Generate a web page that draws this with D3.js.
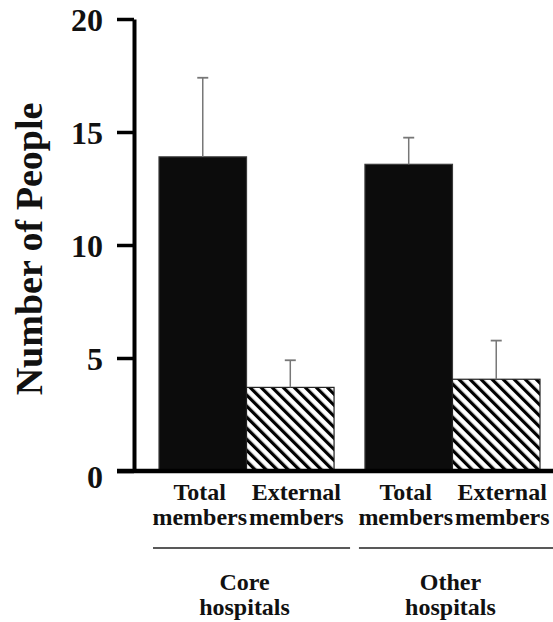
<!DOCTYPE html>
<html>
<head>
<meta charset="utf-8">
<script src="https://cdn.jsdelivr.net/npm/d3@7"></script>
<style>
  html, body { margin: 0; padding: 0; background: #fff; }
  svg { display: block; }
</style>
</head>
<body>
<svg id="chart" width="553" height="622"></svg>
<script>
// Groups of hospitals and the two member counts shown for each
const groups = ["Core hospitals", "Other hospitals"];
const groupLabelLines = [["Core", "hospitals"], ["Other", "hospitals"]];
const series = ["Total members", "External members"];
const seriesLabelLines = [["Total", "members"], ["External", "members"]];

// Mean number of people (per group, per series) and the upper error
const totalMembers = [13.9, 13.57];
const totalMembersErr = [3.5, 1.18];
const externalMembers = [3.7, 4.06];
const externalMembersErr = [1.2, 1.71];

const yTicks = [0, 5, 10, 15, 20];

const FONT = "'Liberation Serif', 'Times New Roman', Times, serif";

const rows = [];
groups.forEach((g, i) => {
  rows.push({ group: g, series: series[0], value: totalMembers[i], err: totalMembersErr[i] });
  rows.push({ group: g, series: series[1], value: externalMembers[i], err: externalMembersErr[i] });
});

const svg = d3.select("#chart");
const defs = svg.append("defs");

// Diagonal hatching for the external-member bars
const pat = defs.append("pattern")
  .attr("id", "hatch")
  .attr("patternUnits", "userSpaceOnUse")
  .attr("width", 7.8)
  .attr("height", 7.8)
  .attr("patternTransform", "rotate(-45)");
pat.append("rect").attr("width", 7.8).attr("height", 7.8).attr("fill", "#fff");
pat.append("rect").attr("x", 0).attr("y", 0).attr("width", 3.2).attr("height", 7.8).attr("fill", "#000");

const plotLeft = 134, plotBottom = 471, plotTop = 19;

const y = d3.scaleLinear().domain([0, 20]).range([plotBottom, plotTop]);

const x0 = d3.scaleBand().domain(groups).range([159, 540]).paddingInner(0.15).paddingOuter(0);
const x1 = d3.scaleBand().domain(series).range([0, x0.bandwidth()]).padding(0);

function label(sel) {
  return sel
    .style("font-family", FONT)
    .style("font-weight", "bold")
    .style("fill", "#111");
}

// Bars
const barG = svg.append("g").selectAll("g.bar").data(rows).join("g")
  .attr("transform", d => `translate(${x0(d.group) + x1(d.series)},0)`);

barG.append("rect")
  .attr("x", 0)
  .attr("y", d => y(d.value))
  .attr("width", x1.bandwidth())
  .attr("height", d => y(0) - y(d.value))
  .attr("fill", d => d.series === series[0] ? "#0c0c0c" : "url(#hatch)")
  .attr("stroke", d => d.series === series[0] ? "#3a3a3a" : "#222")
  .attr("stroke-width", 1.2);

// Error bars (upper only)
barG.append("line")
  .attr("x1", x1.bandwidth() / 2).attr("x2", x1.bandwidth() / 2)
  .attr("y1", d => y(d.value))
  .attr("y2", d => y(d.value + d.err))
  .attr("stroke", "#777").attr("stroke-width", 1.5);
barG.append("line")
  .attr("x1", x1.bandwidth() / 2 - 5.5).attr("x2", x1.bandwidth() / 2 + 5.5)
  .attr("y1", d => y(d.value + d.err))
  .attr("y2", d => y(d.value + d.err))
  .attr("stroke", "#777").attr("stroke-width", 1.8);

// Y axis
const yAxis = d3.axisLeft(y).tickValues(yTicks).tickSize(17).tickPadding(14).tickSizeOuter(0);
const ya = svg.append("g").attr("transform", `translate(${plotLeft},0)`).call(yAxis);
ya.attr("font-family", null).attr("font-size", null);
ya.select(".domain").attr("stroke", "#000").attr("stroke-width", 4);
ya.selectAll(".tick line").attr("stroke", "#000").attr("stroke-width", 3.5);
ya.selectAll(".tick text")
  .call(label)
  .style("font-size", "32px")
  .attr("dy", "0.36em");
ya.selectAll(".tick").filter(d => d === 0).select("text").attr("dy", "0.5em");

// X axis baseline
svg.append("line")
  .attr("x1", plotLeft - 17).attr("x2", 553)
  .attr("y1", y(0)).attr("y2", y(0))
  .attr("stroke", "#000").attr("stroke-width", 4.5);

// Series labels under each bar
const labelShift = [-3, 6];
groups.forEach(gr => {
  series.forEach((s, si) => {
    const cx = x0(gr) + x1(s) + x1.bandwidth() / 2 + labelShift[si];
    seriesLabelLines[si].forEach((line, li) => {
      svg.append("text")
        .attr("x", cx).attr("y", 500 + li * 25)
        .attr("text-anchor", "middle")
        .call(label)
        .style("font-size", "24px")
        .text(line);
    });
  });
});

// Group brackets and labels
groups.forEach((gr, gi) => {
  const start = x0(gr), end = x0(gr) + x0.bandwidth();
  svg.append("line")
    .attr("x1", start - 6).attr("x2", end + 16)
    .attr("y1", 548).attr("y2", 548)
    .attr("stroke", "#222").attr("stroke-width", 1.6);
  const cx = (start + end) / 2 - 2;
  groupLabelLines[gi].forEach((line, li) => {
    svg.append("text")
      .attr("x", cx).attr("y", 590 + li * 25)
      .attr("text-anchor", "middle")
      .call(label)
      .style("font-size", "24px")
      .text(line);
  });
});

// Y axis title
svg.append("text")
  .attr("transform", `translate(42,${(plotTop + plotBottom) / 2 + 4}) rotate(-90)`)
  .attr("text-anchor", "middle")
  .call(label)
  .style("font-size", "38px")
  .text("Number of People");
</script>
</body>
</html>
